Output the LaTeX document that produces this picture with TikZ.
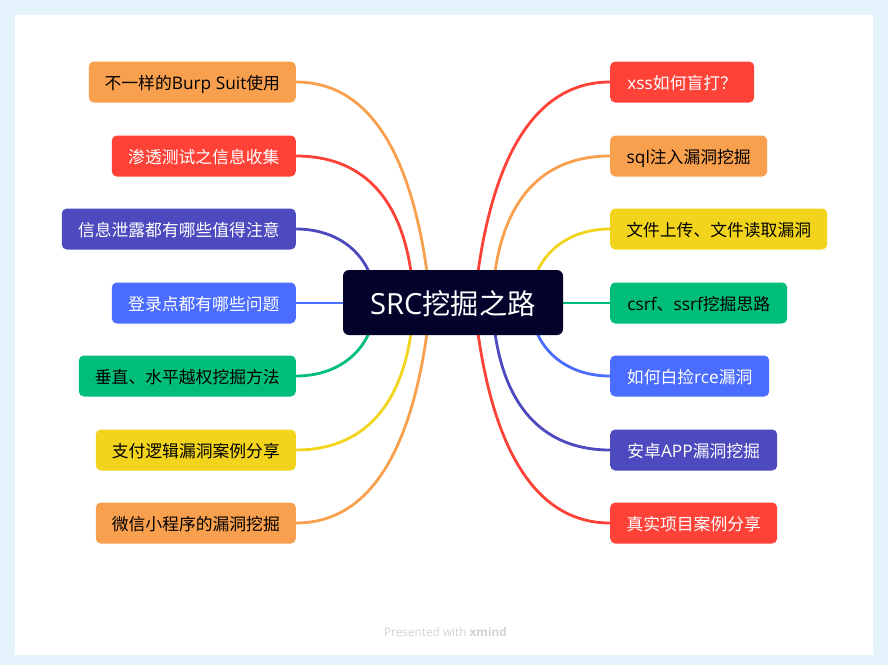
\documentclass[tikz,border=0pt]{standalone}
\usepackage{fontspec}
\setmainfont{Noto Sans CJK SC}
\newfontfamily\lat[Scale=1.03]{Open Sans}
\newfontfamily\marklat{Open Sans}
\definecolor{cBack}{HTML}{E4F2FB}
\definecolor{cOrange}{HTML}{F8A04E}
\definecolor{cRed}{HTML}{FF4238}
\definecolor{cIndigo}{HTML}{4D49BE}
\definecolor{cBlue}{HTML}{4A6CFF}
\definecolor{cGreen}{HTML}{00BD7A}
\definecolor{cYellow}{HTML}{F2D41C}
\definecolor{cRoot}{HTML}{02022B}
\definecolor{cMark}{HTML}{D2D2D2}
\tikzset{
  topic/.style={rounded corners=5pt, minimum height=41pt, inner sep=0pt, text height=17pt, text depth=1.2pt, font=\fontsize{16.8pt}{20pt}\selectfont},
  conn/.style={line width=2.8pt},
  root/.style={fill=cRoot, text=white, rounded corners=6pt, inner sep=0pt, text height=27pt, text depth=3pt, font=\fontsize{28.3pt}{32pt}\selectfont}
}
\begin{document}
\begin{tikzpicture}[x=1pt,y=-1pt]
        \useasboundingbox (0,0) rectangle (888,665);
        \fill[cBack] (0,0) rectangle (888,665);
        \fill[white] (15,15) rectangle (873,655);

        % connector ends on the root
        \coordinate (rootA) at (427,272);
        \coordinate (rootB) at (411,272);
        \coordinate (rootC) at (369,272);
        \coordinate (rootD) at (345,303);
        \coordinate (rootE) at (369,333);
        \coordinate (rootF) at (411,333);
        \coordinate (rootG) at (427,333);
        \coordinate (rootH) at (478,272);
        \coordinate (rootI) at (495,272);
        \coordinate (rootJ) at (537,272);
        \coordinate (rootK) at (561,303);
        \coordinate (rootL) at (537,333);
        \coordinate (rootM) at (495,333);
        \coordinate (rootN) at (478,333);

        % left side
        \node[topic, anchor=east, fill=cOrange, text=black, minimum width=207pt] (burp) at (296,82) {不一样的{\lat Burp Suit}使用};
        \node[topic, anchor=east, fill=cRed, text=white, minimum width=184pt] (info) at (296,156) {渗透测试之信息收集};
        \node[topic, anchor=east, fill=cIndigo, text=white, minimum width=234pt] (leak) at (296,229) {信息泄露都有哪些值得注意};
        \node[topic, anchor=east, fill=cBlue, text=white, minimum width=184pt] (login) at (296,303) {登录点都有哪些问题};
        \node[topic, anchor=east, fill=cGreen, text=black, minimum width=217pt] (priv) at (296,376) {垂直、水平越权挖掘方法};
        \node[topic, anchor=east, fill=cYellow, text=black, minimum width=200pt] (pay) at (296,450) {支付逻辑漏洞案例分享};
        \node[topic, anchor=east, fill=cOrange, text=black, minimum width=200pt] (wx) at (296,523) {微信小程序的漏洞挖掘};

        % right side
        \node[topic, anchor=west, fill=cRed, text=white, minimum width=144pt] (xss) at (610,82) {{\lat xss}如何盲打？};
        \node[topic, anchor=west, fill=cOrange, text=black, minimum width=157pt] (sql) at (610,156) {{\lat sql}注入漏洞挖掘};
        \node[topic, anchor=west, fill=cYellow, text=black, minimum width=217pt] (file) at (610,229) {文件上传、文件读取漏洞};
        \node[topic, anchor=west, fill=cGreen, text=black, minimum width=177pt] (csrf) at (610,303) {{\lat csrf}、{\lat ssrf}挖掘思路};
        \node[topic, anchor=west, fill=cBlue, text=white, minimum width=159pt] (rce) at (610,376) {如何白捡{\lat rce}漏洞};
        \node[topic, anchor=west, fill=cIndigo, text=white, minimum width=167pt] (app) at (610,450) {安卓{\lat APP}漏洞挖掘};
        \node[topic, anchor=west, fill=cRed, text=white, minimum width=167pt] (real) at (610,523) {真实项目案例分享};

        \draw[conn, cOrange] (burp.east) .. controls (375,82) and (412,165) .. (rootA);
        \draw[conn, cRed] (info.east) .. controls (360,156) and (400,195) .. (rootB);
        \draw[conn, cIndigo] (leak.east) .. controls (330,229) and (357,245) .. (rootC);
        \draw[conn, cBlue] (login.east) -- (rootD);
        \draw[conn, cGreen] (priv.east) .. controls (330,376) and (357,360) .. (rootE);
        \draw[conn, cYellow] (pay.east) .. controls (360,450) and (400,410) .. (rootF);
        \draw[conn, cOrange] (wx.east) .. controls (375,523) and (412,440) .. (rootG);

        \draw[conn, cRed] (xss.west) .. controls (531,82) and (493,165) .. (rootH);
        \draw[conn, cOrange] (sql.west) .. controls (546,156) and (506,195) .. (rootI);
        \draw[conn, cYellow] (file.west) .. controls (576,229) and (549,245) .. (rootJ);
        \draw[conn, cGreen] (csrf.west) -- (rootK);
        \draw[conn, cBlue] (rce.west) .. controls (576,376) and (549,360) .. (rootL);
        \draw[conn, cIndigo] (app.west) .. controls (546,450) and (506,410) .. (rootM);
        \draw[conn, cRed] (real.west) .. controls (531,523) and (493,440) .. (rootN);

        \node[root, minimum width=220pt, minimum height=65pt] (main) at (453,302.5) {{\lat SRC}挖掘之路};

        \node[text=cMark, font=\fontsize{11.8pt}{14pt}\selectfont\marklat] (mark) at (445.5,632) {Presented with \textbf{xmind}};
\end{tikzpicture}
\end{document}
